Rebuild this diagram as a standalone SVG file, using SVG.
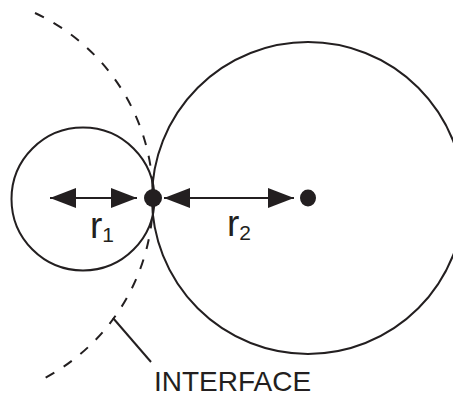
<svg xmlns="http://www.w3.org/2000/svg" width="453" height="396" viewBox="0 0 453 396">
  <style>
    .outline { fill: none; stroke: #231f20; stroke-width: 2; }
    .dash { fill: none; stroke: #231f20; stroke-width: 2; stroke-dasharray: 10 11; }
    .dot { fill: #231f20; }
    .arrow { stroke: #231f20; stroke-width: 2; marker-start: url(#head); marker-end: url(#head); }
    .lead { stroke: #231f20; stroke-width: 2; }
    text { font-family: "Liberation Sans", Arial, sans-serif; fill: #231f20; }
  </style>
  <defs>
    <marker id="head" viewBox="0 0 26 20" refX="26" refY="10" markerWidth="26" markerHeight="20" markerUnits="userSpaceOnUse" orient="auto-start-reverse">
      <path d="M0,0 L26,10 L0,20 Z" fill="#231f20"/>
    </marker>
  </defs>
  <rect width="453" height="396" fill="#ffffff"/>
  <g id="interface">
    <path class="dash" d="M 35 13 A 204 204 0 0 1 40.3 380.4"/>
  </g>
  <g id="small-circle">
    <circle class="outline" cx="83" cy="199" r="71.5"/>
  </g>
  <g id="large-circle">
    <circle class="outline" cx="308" cy="198" r="156"/>
    <ellipse class="dot" cx="308" cy="198" rx="8" ry="8.5"/>
  </g>
  <g id="contact-point">
    <circle class="dot" cx="153" cy="198" r="9"/>
  </g>
  <g id="connectors">
    <line class="arrow" x1="50" y1="198" x2="137" y2="198"/>
    <line class="arrow" x1="164" y1="198" x2="294" y2="198"/>
    <line class="lead" x1="113" y1="318" x2="151" y2="362"/>
  </g>
  <g id="labels">
    <text x="90" y="238" font-size="37">r<tspan font-size="21" dy="4">1</tspan></text>
    <text x="227" y="236" font-size="37">r<tspan font-size="21" dy="4">2</tspan></text>
    <text x="154" y="391" font-size="28">INTERFACE</text>
  </g>
</svg>
